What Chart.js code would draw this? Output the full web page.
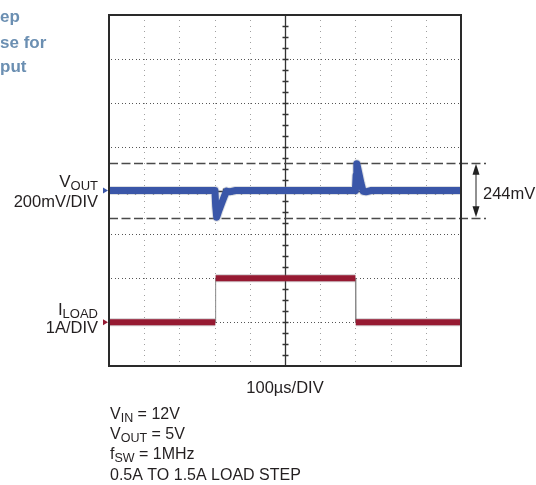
<!DOCTYPE html>
<html>
<head>
<meta charset="utf-8">
<script src="https://cdn.jsdelivr.net/npm/chart.js@4"></script>
<style>
  html, body { margin: 0; padding: 0; background: #fff; }
  canvas { display: block; }
</style>
</head>
<body>
<canvas id="scope" width="536" height="485"></canvas>
<script>
// 100us/DIV, 10 divisions across; 8 divisions tall
const voutTime = [0, 301, 303, 306, 312, 320, 328, 334, 342, 360, 700, 702, 704, 710, 716, 722, 730, 745, 1000];
const voutMv   = [0, 0, -70, -122, -92, -58, -25, -3, -6, 0, 0, 70, 122, 78, 32, -4, -6, 0, 0];

const iloadTime = [0, 302, 303, 700, 701, 1000];
const iloadAmp  = [0.5, 0.5, 1.5, 1.5, 0.5, 0.5];

const deltaMv = 244; // marked peak-to-peak deviation

// channel positions on screen, in divisions from the bottom
const voutZeroDiv = 4, voutMvPerDiv = 200;
const iloadZeroDiv = 0.5, iloadAPerDiv = 1;

const voutPts = voutTime.map((t, i) => ({x: t, y: voutZeroDiv + voutMv[i] / voutMvPerDiv}));
const iloadPts = iloadTime.map((t, i) => ({x: t, y: iloadZeroDiv + iloadAmp[i] / iloadAPerDiv}));

// thick level segments, broken at the edges so the edges stay thin
const iloadFlat = [];
iloadPts.forEach((p, i) => {
    iloadFlat.push(p);
    const next = iloadPts[i + 1];
    if (next && next.y !== p.y) iloadFlat.push({x: (p.x + next.x) / 2, y: null});
});

const FONT = '"Liberation Sans", Arial, sans-serif';

function subText(ctx, main, sub, x, y, size, subSize, align) {
    ctx.font = size + 'px ' + FONT;
    const w1 = ctx.measureText(main).width;
    ctx.font = subSize + 'px ' + FONT;
    const w2 = ctx.measureText(sub).width;
    let left = align === 'right' ? x - w1 - w2 : x;
    ctx.textAlign = 'left';
    ctx.font = size + 'px ' + FONT;
    ctx.fillText(main, left, y);
    ctx.font = subSize + 'px ' + FONT;
    ctx.fillText(sub, left + w1, y + 3);
    return left + w1 + w2;
}

const scopeFrame = {
    id: 'scopeFrame',
    beforeDatasetsDraw(chart) {
        const {ctx, chartArea: a, scales: {x, y}} = chart;
        ctx.save();

        // vertical dotted grid lines
        ctx.fillStyle = '#a0a0a0';
        for (let t = 100; t < 1000; t += 100) {
            if (t === 500) continue;
            const px = Math.round(x.getPixelForValue(t));
            for (let d = 1; d < 64; d++) {
                ctx.fillRect(px, Math.round(y.getPixelForValue(d / 8)), 1, 1);
            }
        }
        // horizontal dotted grid lines
        ctx.fillStyle = '#555';
        for (let d = 1; d < 8; d++) {
            if (d === 4) continue;
            const py = Math.round(y.getPixelForValue(d));
            for (let px = a.left + 2; px < a.right; px += 3.5) ctx.fillRect(Math.round(px), py, 1, 1);
        }

        // centre crosshair with minor ticks
        const cx = Math.round(x.getPixelForValue(500)) + 0.5;
        const cy = Math.round(y.getPixelForValue(4)) + 0.5;
        ctx.strokeStyle = '#333';
        ctx.lineWidth = 1.3;
        ctx.beginPath();
        ctx.moveTo(cx, a.top); ctx.lineTo(cx, a.bottom);
        ctx.moveTo(a.left, cy); ctx.lineTo(a.right, cy);
        for (let d = 1; d < 32; d++) {
            const py = Math.round(y.getPixelForValue(d / 4)) + 0.5;
            ctx.moveTo(cx - 3, py); ctx.lineTo(cx + 3, py);
        }
        for (let d = 1; d < 40; d++) {
            const px = Math.round(x.getPixelForValue(d * 25)) + 0.5;
            ctx.moveTo(px, cy - 3); ctx.lineTo(px, cy + 3);
        }
        ctx.stroke();

        // dashed limits of the transient
        const yHi = Math.round(y.getPixelForValue(voutZeroDiv + deltaMv / 2 / voutMvPerDiv)) - 0.5;
        const yLo = Math.round(y.getPixelForValue(voutZeroDiv - deltaMv / 2 / voutMvPerDiv)) + 1.5;
        ctx.strokeStyle = '#4a4a4a';
        ctx.lineWidth = 1.4;
        ctx.setLineDash([9, 3.5]);
        ctx.beginPath();
        ctx.moveTo(a.left, yHi); ctx.lineTo(a.right + 25, yHi);
        ctx.moveTo(a.left, yLo); ctx.lineTo(a.right + 25, yLo);
        ctx.stroke();
        ctx.restore();
    },
    afterDatasetsDraw(chart) {
        const {ctx, chartArea: a, scales: {x, y}} = chart;
        ctx.save();

        // frame
        ctx.strokeStyle = '#2a2a2a';
        ctx.lineWidth = 2;
        ctx.strokeRect(a.left, a.top, a.right - a.left, a.bottom - a.top);

        // channel markers
        const mark = (div, col) => {
            const py = y.getPixelForValue(div);
            ctx.fillStyle = col;
            ctx.beginPath();
            ctx.moveTo(a.left - 6, py - 3);
            ctx.lineTo(a.left - 1, py);
            ctx.lineTo(a.left - 6, py + 3);
            ctx.closePath();
            ctx.fill();
        };
        mark(voutZeroDiv, '#3a56a8');
        mark(iloadZeroDiv + iloadAmp[0] / iloadAPerDiv, '#961a32');

        // 244mV arrow
        const yHi = y.getPixelForValue(voutZeroDiv + deltaMv / 2 / voutMvPerDiv) - 1;
        const yLo = y.getPixelForValue(voutZeroDiv - deltaMv / 2 / voutMvPerDiv) + 1;
        const ax = a.right + 15;
        ctx.strokeStyle = '#222';
        ctx.fillStyle = '#222';
        ctx.lineWidth = 1;
        ctx.beginPath();
        ctx.moveTo(ax, yHi + 8); ctx.lineTo(ax, yLo - 8);
        ctx.stroke();
        ctx.beginPath();
        ctx.moveTo(ax, yHi + 1); ctx.lineTo(ax - 3.5, yHi + 12); ctx.lineTo(ax + 3.5, yHi + 12);
        ctx.closePath(); ctx.fill();
        ctx.beginPath();
        ctx.moveTo(ax, yLo - 1); ctx.lineTo(ax - 3.5, yLo - 12); ctx.lineTo(ax + 3.5, yLo - 12);
        ctx.closePath(); ctx.fill();

        ctx.fillStyle = '#231f20';
        ctx.textBaseline = 'alphabetic';
        ctx.font = '16.5px ' + FONT;
        ctx.textAlign = 'left';
        ctx.fillText(deltaMv + 'mV', 483, 199);

        // channel labels
        subText(ctx, 'V', 'OUT', 98, 187, 17, 13, 'right');
        ctx.font = '16.5px ' + FONT;
        ctx.textAlign = 'right';
        ctx.fillText(voutMvPerDiv + 'mV/DIV', 98, 207);
        subText(ctx, 'I', 'LOAD', 98, 315, 17, 13, 'right');
        ctx.font = '16.5px ' + FONT;
        ctx.textAlign = 'right';
        ctx.fillText(iloadAPerDiv + 'A/DIV', 98, 333);

        // time base
        ctx.textAlign = 'center';
        ctx.fillText('100µs/DIV', (a.left + a.right) / 2, 393);

        // conditions
        const end1 = subText(ctx, 'V', 'IN', 110, 419, 16, 12.5, 'left');
        ctx.font = '16px ' + FONT; ctx.textAlign = 'left';
        ctx.fillText(' = 12V', end1, 419);
        const end2 = subText(ctx, 'V', 'OUT', 110, 439, 16, 12.5, 'left');
        ctx.font = '16px ' + FONT; ctx.textAlign = 'left';
        ctx.fillText(' = 5V', end2, 439);
        const end3 = subText(ctx, 'f', 'SW', 110, 459, 16, 12.5, 'left');
        ctx.font = '16px ' + FONT; ctx.textAlign = 'left';
        ctx.fillText(' = 1MHz', end3, 459);
        ctx.fillText('0.5A TO 1.5A LOAD STEP', 110, 480);

        // cropped figure title
        ctx.fillStyle = '#6b8fb2';
        ctx.font = 'bold 17px ' + FONT;
        ctx.fillText('ep', 0, 22);
        ctx.fillText('se for', 0, 48);
        ctx.fillText('put', 0, 72);
        ctx.restore();
    }
};

new Chart(document.getElementById('scope'), {
    type: 'line',
    data: {
        datasets: [
            {data: voutPts, borderColor: 'rgba(140,145,160,0.3)', borderWidth: 9, order: 4},
            {data: voutPts, borderColor: '#3a56a8', borderWidth: 7, order: 3},
            {data: iloadPts, borderColor: '#8a8a8a', borderWidth: 1, order: 2},
            {data: iloadFlat, borderColor: 'rgba(120,110,115,0.35)', borderWidth: 8, spanGaps: false, order: 1},
            {data: iloadFlat, borderColor: '#961a32', borderWidth: 6, spanGaps: false, order: 0}
        ]
    },
    options: {
        responsive: false,
        animation: false,
        devicePixelRatio: 1,
        layout: {padding: {left: 109, right: 75, top: 15, bottom: 119}},
        elements: {point: {radius: 0}, line: {tension: 0, borderJoinStyle: 'round'}},
        plugins: {legend: {display: false}, tooltip: {enabled: false}},
        scales: {
            x: {type: 'linear', min: 0, max: 1000, display: false},
            y: {type: 'linear', min: 0, max: 8, display: false}
        }
    },
    plugins: [scopeFrame]
});
</script>
</body>
</html>
